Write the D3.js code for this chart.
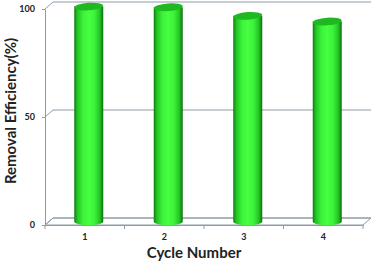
<!DOCTYPE html>
<html><head><meta charset="utf-8">
<script src="https://cdn.jsdelivr.net/npm/d3@7"></script>
<style>html,body{margin:0;padding:0;background:#fff}</style>
</head><body>
<svg id="c" width="375" height="262"></svg>
<script>
const categories = ["1", "2", "3", "4"];
const values = [99.5, 99.2, 95.2, 92.6];
const yTicks = [0, 50, 100];
const yTitle = "Removal Efficiency(%)";
const xTitle = "Cycle Number";

const svg = d3.select("#c");
const font = "Lato, 'Open Sans', sans-serif";
const x0 = 45, x1 = 363, yb = 225, yt = 9;
const dx = 8, dy = -7;
const x = d3.scaleBand().domain(categories).range([x0, x1]);
const y = d3.scaleLinear().domain([0, 100]).range([yb, yt]);
const grid = "#8d9ba6";

// gradient
const defs = svg.append("defs");
const g1 = defs.append("linearGradient").attr("id", "cyl").attr("x1", 0).attr("x2", 1).attr("y1", 0).attr("y2", 0);
[[0, "#0e7a0e"], [0.1, "#22c222"], [0.3, "#3cf23c"], [0.5, "#46ff3e"], [0.7, "#3cf23c"], [0.88, "#24c424"], [1, "#0d700d"]]
  .forEach(([o, c]) => g1.append("stop").attr("offset", o).attr("stop-color", c));

// back wall gridlines & side diagonals
yTicks.forEach(t => {
  svg.append("line").attr("x1", x0 + dx).attr("x2", x1 + dx).attr("y1", y(t) + dy).attr("y2", y(t) + dy)
    .attr("stroke", grid).attr("stroke-width", 1);
  svg.append("line").attr("x1", x0).attr("x2", x0 + dx).attr("y1", y(t)).attr("y2", y(t) + dy)
    .attr("stroke", grid).attr("stroke-width", 1);
});
// floor
svg.append("path").attr("d", `M${x0},${y(0)} L${x0 + dx},${y(0) + dy} L${x1 + dx},${y(0) + dy} L${x1},${y(0)} Z`)
  .attr("fill", "none").attr("stroke", grid);

// y axis
const ya = svg.append("g").attr("transform", `translate(${x0},0)`)
  .call(d3.axisLeft(y).tickValues(yTicks).tickSize(3).tickSizeOuter(0));
ya.select(".domain").attr("stroke", grid);
ya.selectAll(".tick line").attr("stroke", grid);
ya.selectAll("text").attr("font-family", font).attr("font-weight", "bold").attr("font-size", 9).attr("fill", "#222").attr("dx", -4);

// x axis
const xa = svg.append("g").attr("transform", `translate(0,${yb})`)
  .call(d3.axisBottom(x).tickSize(0).tickPadding(9));
xa.select(".domain").attr("stroke", grid);
xa.selectAll("text").attr("font-family", font).attr("font-weight", "bold").attr("font-size", 9).attr("fill", "#222");
const bounds = categories.map(c => x(c)).concat([x1]);
xa.selectAll(".bt").data(bounds).enter().append("line").attr("class", "bt")
  .attr("x1", d => d).attr("x2", d => d).attr("y1", 0).attr("y2", 4).attr("stroke", grid);

// cylinders
const bw = 29, ry = 3.8;
const bars = svg.append("g");
categories.forEach((c, i) => {
  const cx = x(c) + x.bandwidth() / 2 + dx / 2;
  const top = y(values[i]) + dy / 2;
  const bot = y(0) + dy / 2;
  const g = bars.append("g");
  g.append("path")
    .attr("d", `M${cx - bw / 2},${top} L${cx - bw / 2},${bot} A${bw / 2},${ry} 0 0 0 ${cx + bw / 2},${bot} L${cx + bw / 2},${top} Z`)
    .attr("fill", "url(#cyl)");
  g.append("ellipse").attr("cx", cx).attr("cy", top).attr("rx", bw / 2).attr("ry", ry)
    .attr("fill", "#20b820").attr("transform", `rotate(-4 ${cx} ${top})`);
});

// titles
svg.append("text").attr("transform", `translate(16,111) rotate(-90)`).attr("text-anchor", "middle")
  .attr("font-family", font).attr("font-weight", "bold").attr("font-size", 15).attr("fill", "#222").text(yTitle);
svg.append("text").attr("x", 194).attr("y", 258).attr("text-anchor", "middle")
  .attr("font-family", font).attr("font-weight", "bold").attr("font-size", 15).attr("fill", "#222").text(xTitle);
</script>
</body></html>
